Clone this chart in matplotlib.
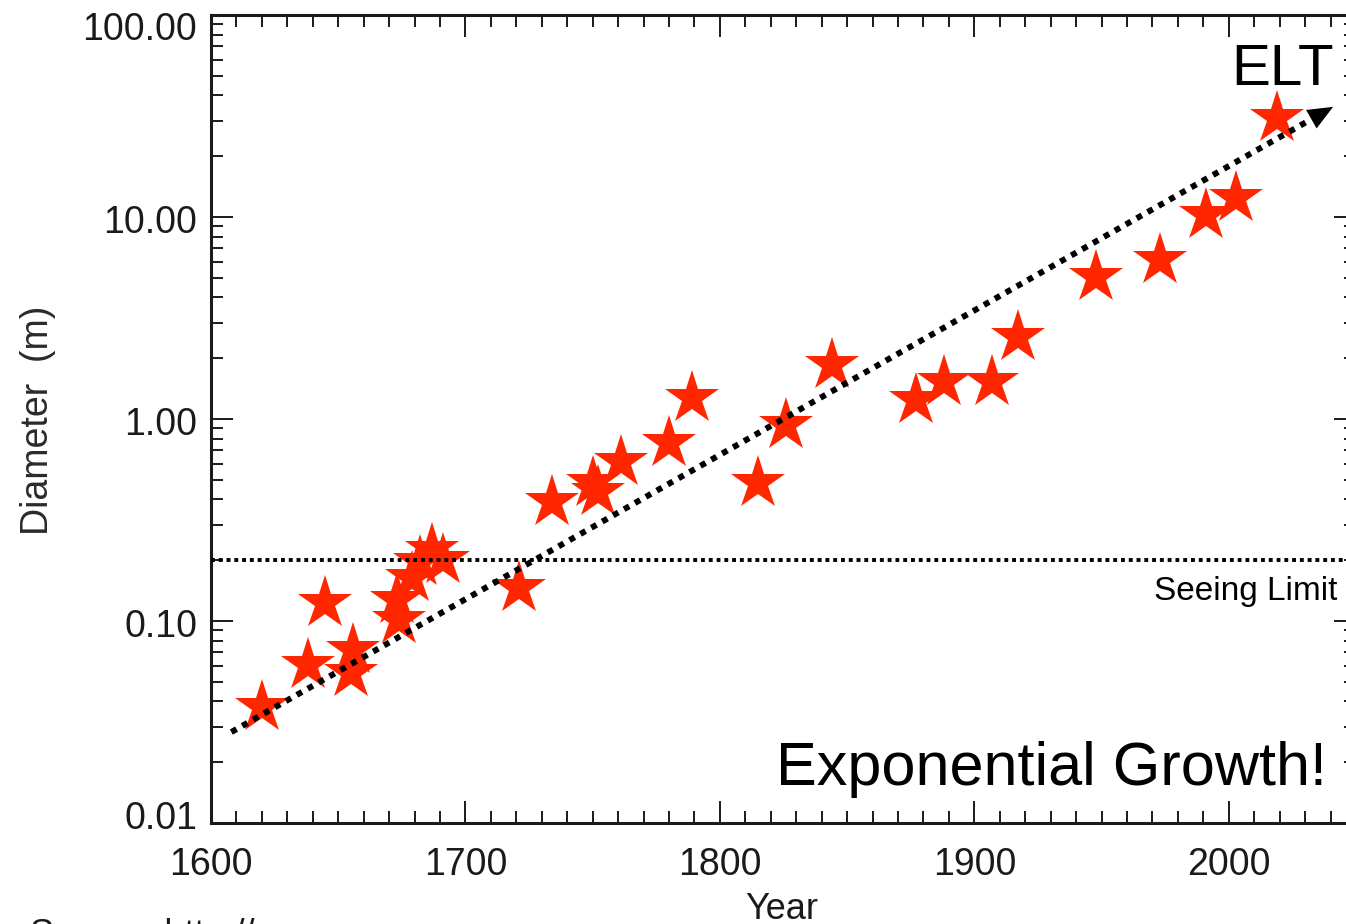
import numpy as np
import matplotlib
matplotlib.use('Agg')
import matplotlib.pyplot as plt
from matplotlib.ticker import MultipleLocator, LogLocator, FormatStrFormatter, NullFormatter
from matplotlib.transforms import ScaledTranslation

plt.rcParams['font.family'] = ['Liberation Sans', 'DejaVu Sans']

# telescope aperture by year
years = [1620, 1638, 1645, 1656, 1655, 1674, 1673, 1679, 1682, 1687, 1691,
         1721, 1734, 1750, 1752, 1761, 1780, 1789, 1815, 1826, 1844,
         1877, 1888, 1907, 1917, 1948, 1973, 1991, 2003, 2019]
diameters = [0.0375, 0.0605, 0.123, 0.0718, 0.0553, 0.101, 0.127, 0.163, 0.196, 0.224, 0.20,
             0.146, 0.388, 0.48, 0.435, 0.61, 0.76, 1.27, 0.48, 0.93, 1.85,
             1.24, 1.52, 1.52, 2.55, 5.05, 6.1, 10.2, 12.4, 30.9]

# exponential trend (start, end of arrow)
trend_years = [1608, 2041]
trend_diam = [0.0282, 35.1]

seeing_limit = 0.2
xticks = [1600, 1700, 1800, 1900, 2000]
yticks = [0.01, 0.1, 1, 10, 100]

fig = plt.figure(figsize=(13.46, 9.24), dpi=100)
ax = fig.add_axes([211 / 1346, 101 / 924, 1145 / 1346, 808 / 924])
ax.set_yscale('log')
ax.set_xlim(1600, 2050)
ax.set_ylim(0.01, 100)

ax.plot(years, diameters, linestyle='none', marker='*', markersize=41,
        color='#ff2600', markeredgewidth=0, zorder=2)

# trend line, stops just short of the arrow head
ty0, ty1 = trend_years
ld0, ld1 = np.log10(trend_diam)
slope = (ld1 - ld0) / (ty1 - ty0)
line_end = ty1 - 9
ax.plot([ty0, line_end], [trend_diam[0], 10 ** (ld0 + slope * (line_end - ty0))],
        color='k', lw=4.3, linestyle=(0, (1, 1.1)), dash_capstyle='butt', zorder=3)
ax.annotate('', xy=(ty1, trend_diam[1]),
            xytext=(line_end, 10 ** (ld0 + slope * (line_end - ty0))),
            arrowprops=dict(arrowstyle='-|>,head_length=0.4,head_width=0.17',
                            mutation_scale=45, color='k', lw=0,
                            shrinkA=0, shrinkB=0), zorder=3)

ax.axhline(seeing_limit, color='k', lw=2.8, linestyle=(0, (1, 1)),
           dash_capstyle='butt', zorder=3)

ax.text(0.984, 0.276, 'Seeing Limit', transform=ax.transAxes, ha='right',
        va='baseline', fontsize=24)
ax.text(0.981, 0.913, 'ELT', transform=ax.transAxes, ha='right',
        va='baseline', fontsize=42)
ax.text(0.9747, 0.047, 'Exponential Growth!', transform=ax.transAxes, ha='right',
        va='baseline', fontsize=44)

ax.set_xticks(xticks)
ax.xaxis.set_minor_locator(MultipleLocator(10))
ax.yaxis.set_major_locator(LogLocator(base=10, numticks=10))
ax.yaxis.set_minor_locator(LogLocator(base=10, subs=np.arange(2, 10), numticks=10))
ax.set_yticks(yticks)
ax.yaxis.set_major_formatter(FormatStrFormatter('%.2f'))
ax.yaxis.set_minor_formatter(NullFormatter())

ax.tick_params(which='both', direction='in', top=True, right=True,
               width=1.4, colors='#1a1a1a', labelsize=27)
ax.tick_params(which='major', length=16)
ax.tick_params(which='minor', length=8.5)
ax.tick_params(axis='y', pad=10)
ax.tick_params(axis='x', pad=17)
for sp in ax.spines.values():
    sp.set_linewidth(2.2)
    sp.set_color('#1a1a1a')

# y labels sit a little off their ticks at the ends, as in the original
shifts = [8, -2, -2, -2, -11]
for lab, dy in zip(ax.get_yticklabels(), shifts):
    lab.set_transform(lab.get_transform() + ScaledTranslation(0, dy / 100, fig.dpi_scale_trans))

ax.set_xlabel('Year', fontsize=26, color='#1a1a1a')
ax.xaxis.set_label_coords(0.4987, -0.085)
ax.xaxis.label.set_va('top')
ax.set_ylabel('Diameter  (m)', fontsize=27, color='#2a2a2a')
ax.yaxis.set_label_coords(-0.135, 0.4988)

fig.text(30 / 1346, 1 - 945 / 924, 'Source: http://', fontsize=26,
         ha='left', va='baseline', color='#1a1a1a')

fig.savefig('out.png', dpi=100)
